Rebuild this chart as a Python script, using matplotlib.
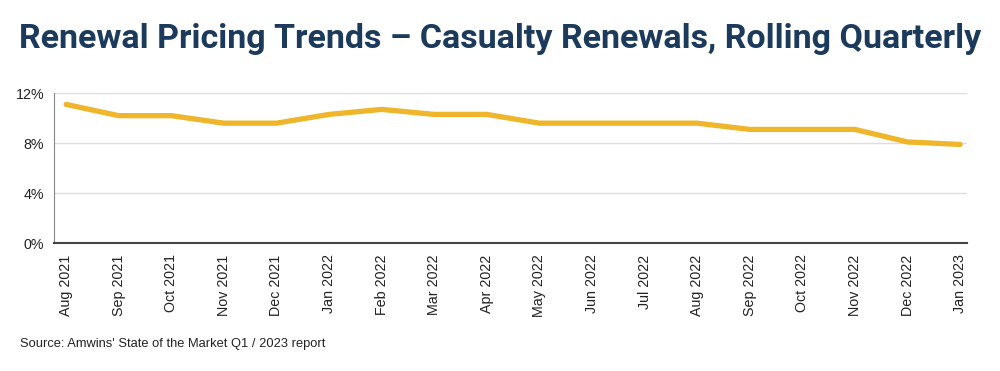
#!/usr/bin/env python3

import matplotlib
matplotlib.use('Agg')
import matplotlib.pyplot as plt
from matplotlib.ticker import FuncFormatter

months = ["Aug 2021", "Sep 2021", "Oct 2021", "Nov 2021", "Dec 2021",
          "Jan 2022", "Feb 2022", "Mar 2022", "Apr 2022", "May 2022",
          "Jun 2022", "Jul 2022", "Aug 2022", "Sep 2022", "Oct 2022",
          "Nov 2022", "Dec 2022", "Jan 2023"]
pricing = [11.1, 10.2, 10.2, 9.6, 9.6, 10.3, 10.7, 10.3, 10.3, 9.6,
           9.6, 9.6, 9.6, 9.1, 9.1, 9.1, 8.1, 7.9]
yticks = [0, 4, 8, 12]

plt.rcParams['font.family'] = ['Liberation Sans', 'DejaVu Sans']

fig = plt.figure(figsize=(10, 3.71), dpi=100)
ax = fig.add_axes([0.054, 0.344, 0.913, 0.405])

x = list(range(len(months)))
ax.plot(x, pricing, color="#EFB52B", lw=3.8, solid_capstyle="round",
        solid_joinstyle="round")

ax.set_ylim(0, 12)
ax.set_xlim(-0.23, len(months) - 1 + 0.13)
ax.set_yticks(yticks)
ax.yaxis.set_major_formatter(FuncFormatter(lambda v, p: "%d%%" % v))
ax.set_xticks(x)
ax.set_xticklabels(months, rotation=90)
ax.tick_params(axis="both", length=0, labelsize=10.3, colors="#222222")
ax.tick_params(axis="x", pad=8)
ax.tick_params(axis="y", pad=7)

ax.grid(axis="y", color="#DDDDDD", lw=1)
ax.set_axisbelow(True)
for s in ["top", "right"]:
    ax.spines[s].set_visible(False)
ax.spines["left"].set_color("#888888")
ax.spines["bottom"].set_color("#444444")
ax.spines["bottom"].set_linewidth(1.5)

fig.text(0.5, 0.895, "Renewal Pricing Trends \u2013 Casualty Renewals, Rolling Quarterly",
         ha="center", va="center", fontsize=24.5, fontweight="bold", color="#1B3A5C",
         family=["Roboto", "DejaVu Sans"])
fig.text(0.02, 0.073, "Source: Amwins' State of the Market Q1 / 2023 report",
         ha="left", va="center", fontsize=9.3, color="#222222")

fig.savefig("out.png", dpi=100)
